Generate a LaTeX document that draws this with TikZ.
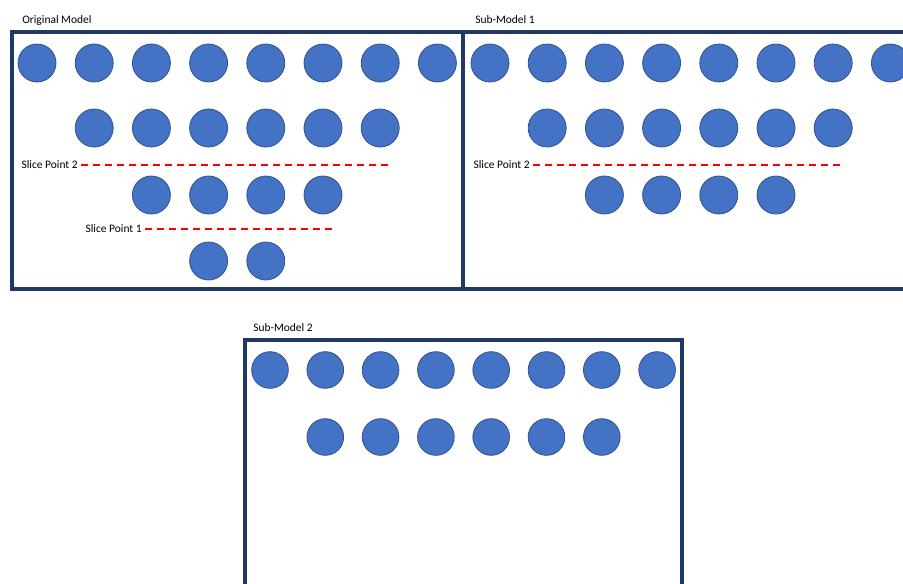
\documentclass[tikz,border=0pt]{standalone}
\usepackage{fontspec}
\setmainfont{Carlito}
\usetikzlibrary{calc}

\definecolor{unitblue}{HTML}{4472C4}
\definecolor{unitedge}{HTML}{2F528F}
\definecolor{boxnavy}{HTML}{1F3864}

\tikzset{
    unit/.style={circle, fill=unitblue, draw=unitedge, line width=0.6pt, minimum size=28.5pt, inner sep=0pt},
    modelbox/.style={draw=boxnavy, line width=2.4pt},
    slice/.style={red, line width=1.6pt, dash pattern=on 5.4pt off 3.6pt},
    caption/.style={font=\fontsize{8.6}{10}\selectfont, inner sep=0pt}
}

\begin{document}
\begin{tikzpicture}[x=0.75pt,y=-0.75pt]
    \useasboundingbox (0,0) rectangle (903,583);
    \clip (0,0) rectangle (903,583);
        % original model
        \draw[modelbox] (12,32) rectangle (463,289);
        \node[caption, anchor=west] (orig) at (22,20) {Original Model};
        \foreach \i in {0,...,7} {
            \node[unit] (o1-\i) at (37+57.2*\i,63) {};
        }
        \foreach \i in {1,...,6} {
            \node[unit] (o2-\i) at (37+57.2*\i,128) {};
        }
        \foreach \i in {2,...,5} {
            \node[unit] (o3-\i) at (37+57.2*\i,195) {};
        }
        \foreach \i in {3,4} {
            \node[unit] (o4-\i) at (37+57.2*\i,261) {};
        }
        \node[caption, anchor=east] (osp2) at (78,165) {Slice Point 2};
        \coordinate (osp2end) at (391,165);
        \draw[slice] ($(osp2.east)+(3,0)$) -- (osp2end);
        \node[caption, anchor=east] (osp1) at (142,229) {Slice Point 1};
        \coordinate (osp1end) at (333,229);
        \draw[slice] ($(osp1.east)+(3,0)$) -- (osp1end);

        % sub-model 1
        \draw[modelbox] (463,32) rectangle (915,289);
        \node[caption, anchor=west] (sub1) at (475,20) {Sub-Model 1};
        \foreach \i in {0,...,7} {
            \node[unit] (s1-\i) at (490+57.2*\i,63) {};
        }
        \foreach \i in {1,...,6} {
            \node[unit] (t1-\i) at (490+57.2*\i,128) {};
        }
        \foreach \i in {2,...,5} {
            \node[unit] (u1-\i) at (490+57.2*\i,195) {};
        }
        \node[caption, anchor=east] (ssp2) at (530,165) {Slice Point 2};
        \coordinate (ssp2end) at (844,165);
        \draw[slice] ($(ssp2.east)+(3,0)$) -- (ssp2end);

        % sub-model 2
        \draw[modelbox] (245,340) rectangle (682,600);
        \node[caption, anchor=west] (sub2) at (253,328) {Sub-Model 2};
        \foreach \i in {0,...,7} {
            \node[unit, minimum size=27.5pt] (s2-\i) at (270+55.3*\i,370) {};
        }
        \foreach \i in {1,...,6} {
            \node[unit, minimum size=27.5pt] (t2-\i) at (270+55.3*\i,437) {};
        }
    \end{tikzpicture}
\end{document}
